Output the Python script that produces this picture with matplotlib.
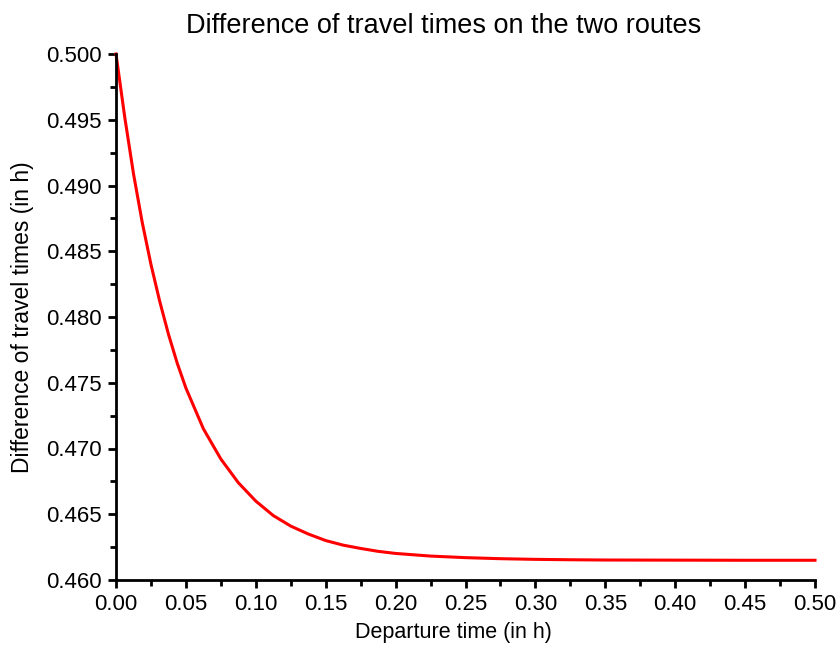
import matplotlib.pyplot as plt
from matplotlib.ticker import MultipleLocator, FormatStrFormatter

# departure time (h) and difference of travel times (h)
departure = [0.0, 0.00625, 0.0125, 0.01875, 0.025, 0.03125, 0.0375, 0.04375,
             0.05, 0.0625, 0.075, 0.0875, 0.1, 0.1125, 0.125, 0.1375, 0.15,
             0.1625, 0.175, 0.1875, 0.2, 0.225, 0.25, 0.275, 0.3, 0.325, 0.35,
             0.4, 0.45, 0.5]
difference = [0.50000, 0.49520, 0.49090, 0.48720, 0.48400, 0.48120, 0.47870, 0.47650,
              0.47460, 0.47150, 0.46920, 0.46740, 0.46600, 0.46490, 0.46410, 0.46350, 0.46300,
              0.46265, 0.46240, 0.46218, 0.46202, 0.46182, 0.46170, 0.46162, 0.46157, 0.46154, 0.46152,
              0.46151, 0.46150, 0.46150]

plt.rcParams['font.family'] = ['Liberation Sans', 'DejaVu Sans']

fig = plt.figure(figsize=(8.39, 6.48), dpi=100)
ax = fig.add_axes([116 / 839, 1 - 580 / 648, 699 / 839, 526 / 648])

ax.plot(departure, difference, color="red", linewidth=2.2, clip_on=False)

ax.set_xlim(0, 0.5)
ax.set_ylim(0.46, 0.5)

ax.xaxis.set_major_locator(MultipleLocator(0.05))
ax.xaxis.set_minor_locator(MultipleLocator(0.025))
ax.yaxis.set_major_locator(MultipleLocator(0.005))
ax.yaxis.set_minor_locator(MultipleLocator(0.0025))
ax.xaxis.set_major_formatter(FormatStrFormatter("%.2f"))
ax.yaxis.set_major_formatter(FormatStrFormatter("%.3f"))

for side in ("top", "right"):
    ax.spines[side].set_visible(False)
for side in ("left", "bottom"):
    ax.spines[side].set_linewidth(2.0)

ax.tick_params(which="major", direction="out", length=6, width=2, labelsize=16, pad=4)
ax.tick_params(which="minor", direction="out", length=4, width=2)

ax.set_title("Difference of travel times on the two routes", fontsize=19.5, pad=15, x=0.468)
ax.set_xlabel("Departure time (in h)", fontsize=15.5, labelpad=5, x=0.483)
ax.set_ylabel("Difference of travel times (in h)", fontsize=16.5, labelpad=9)

fig.savefig("out.png", dpi=100)
